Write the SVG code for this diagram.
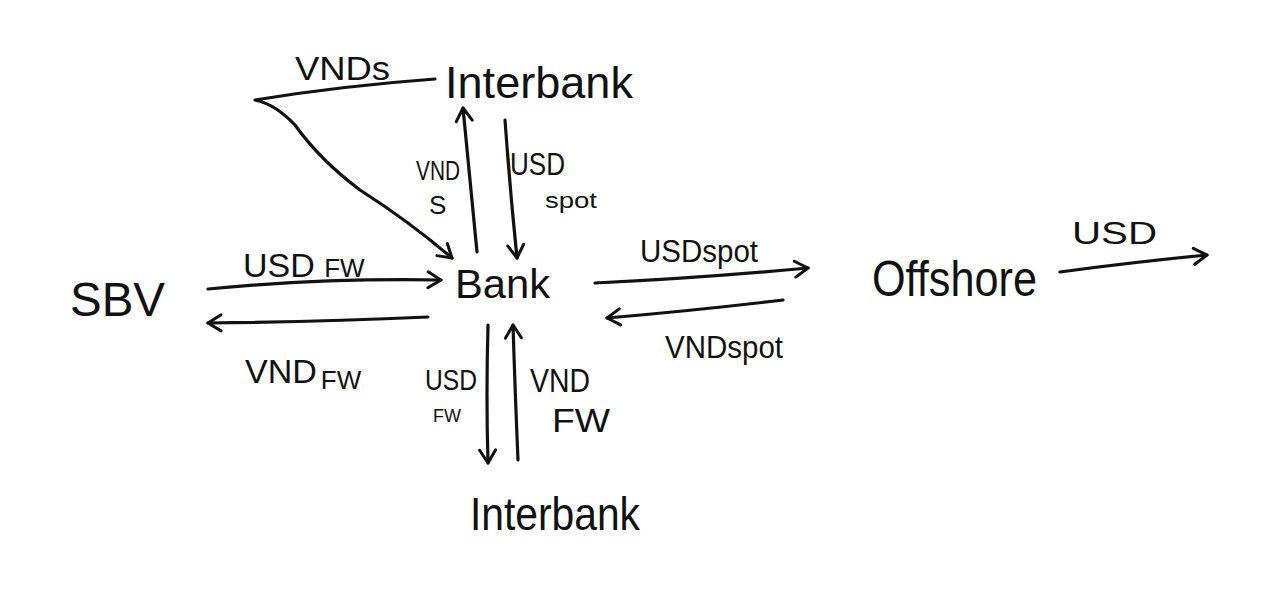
<svg xmlns="http://www.w3.org/2000/svg" width="1280" height="593" viewBox="0 0 1280 593">
<defs>
<marker id="arr" viewBox="-16 -10 20 20" refX="0" refY="0" markerWidth="20" markerHeight="20" markerUnits="userSpaceOnUse" orient="auto">
<polyline points="-13,-8 0,0 -13,8" fill="none" stroke="#111" stroke-width="3" stroke-linecap="round" stroke-linejoin="round"/>
</marker>
</defs>
<style>
.t{font-family:"Liberation Sans","DejaVu Sans",sans-serif;fill:#111;}
.c{fill:none;stroke:#111;stroke-width:3.2;stroke-linecap:round;stroke-linejoin:round;}
</style>
<rect width="1280" height="593" fill="#fff"/>
<g id="connectors">
<path class="c" d="M435 79 Q340 86 255 100 Q275 104 295 125 Q320 160 360 190 Q410 222 452 258" marker-end="url(#arr)"/>
<path class="c" d="M477 252 Q470 180 463 108" marker-end="url(#arr)"/>
<path class="c" d="M505 120 Q510 190 517 258" marker-end="url(#arr)"/>
<path class="c" d="M208 289 Q320 278 441 280" marker-end="url(#arr)"/>
<path class="c" d="M428 317 Q320 322 208 323" marker-end="url(#arr)"/>
<path class="c" d="M595 283 Q700 278 808 268" marker-end="url(#arr)"/>
<path class="c" d="M783 300 Q700 310 607 318" marker-end="url(#arr)"/>
<path class="c" d="M488 325 Q486 395 488 463" marker-end="url(#arr)"/>
<path class="c" d="M518 460 Q515 390 513 325" marker-end="url(#arr)"/>
<path class="c" d="M1060 272 Q1135 262 1207 255" marker-end="url(#arr)"/>
</g>
<g id="interbank-top"><text class="t" x="445" y="98" font-size="44" textLength="188" lengthAdjust="spacingAndGlyphs">Interbank</text></g>
<g id="bank"><text class="t" x="455" y="298" font-size="40" textLength="95" lengthAdjust="spacingAndGlyphs">Bank</text></g>
<g id="sbv"><text class="t" x="70" y="316" font-size="48" textLength="95" lengthAdjust="spacingAndGlyphs">SBV</text></g>
<g id="offshore"><text class="t" x="872" y="296" font-size="50" textLength="165" lengthAdjust="spacingAndGlyphs">Offshore</text></g>
<g id="interbank-bottom"><text class="t" x="470" y="530" font-size="46" textLength="170" lengthAdjust="spacingAndGlyphs">Interbank</text></g>
<g id="labels">
<text class="t" x="295" y="80" font-size="34" textLength="95" lengthAdjust="spacingAndGlyphs">VNDs</text>
<text class="t" x="416" y="180" font-size="28" textLength="44" lengthAdjust="spacingAndGlyphs">VND</text>
<text class="t" x="429" y="214" font-size="26">S</text>
<text class="t" x="510" y="175" font-size="32" textLength="55" lengthAdjust="spacingAndGlyphs">USD</text>
<text class="t" x="545" y="208" font-size="22" textLength="52" lengthAdjust="spacingAndGlyphs">spot</text>
<text class="t" x="243" y="277" font-size="34">USD <tspan font-size="26">FW</tspan></text>
<text class="t" x="245" y="383" font-size="34">VND<tspan font-size="26" dx="4" dy="6">FW</tspan></text>
<text class="t" x="640" y="262" font-size="32" textLength="118" lengthAdjust="spacingAndGlyphs">USDspot</text>
<text class="t" x="665" y="358" font-size="32" textLength="118" lengthAdjust="spacingAndGlyphs">VNDspot</text>
<text class="t" x="425" y="390" font-size="30" textLength="52" lengthAdjust="spacingAndGlyphs">USD</text>
<text class="t" x="433" y="422" font-size="18">FW</text>
<text class="t" x="530" y="392" font-size="34" textLength="60" lengthAdjust="spacingAndGlyphs">VND</text>
<text class="t" x="552" y="432" font-size="34" textLength="58" lengthAdjust="spacingAndGlyphs">FW</text>
<text class="t" x="1072" y="244" font-size="32" textLength="85" lengthAdjust="spacingAndGlyphs">USD</text>
</g>
</svg>
